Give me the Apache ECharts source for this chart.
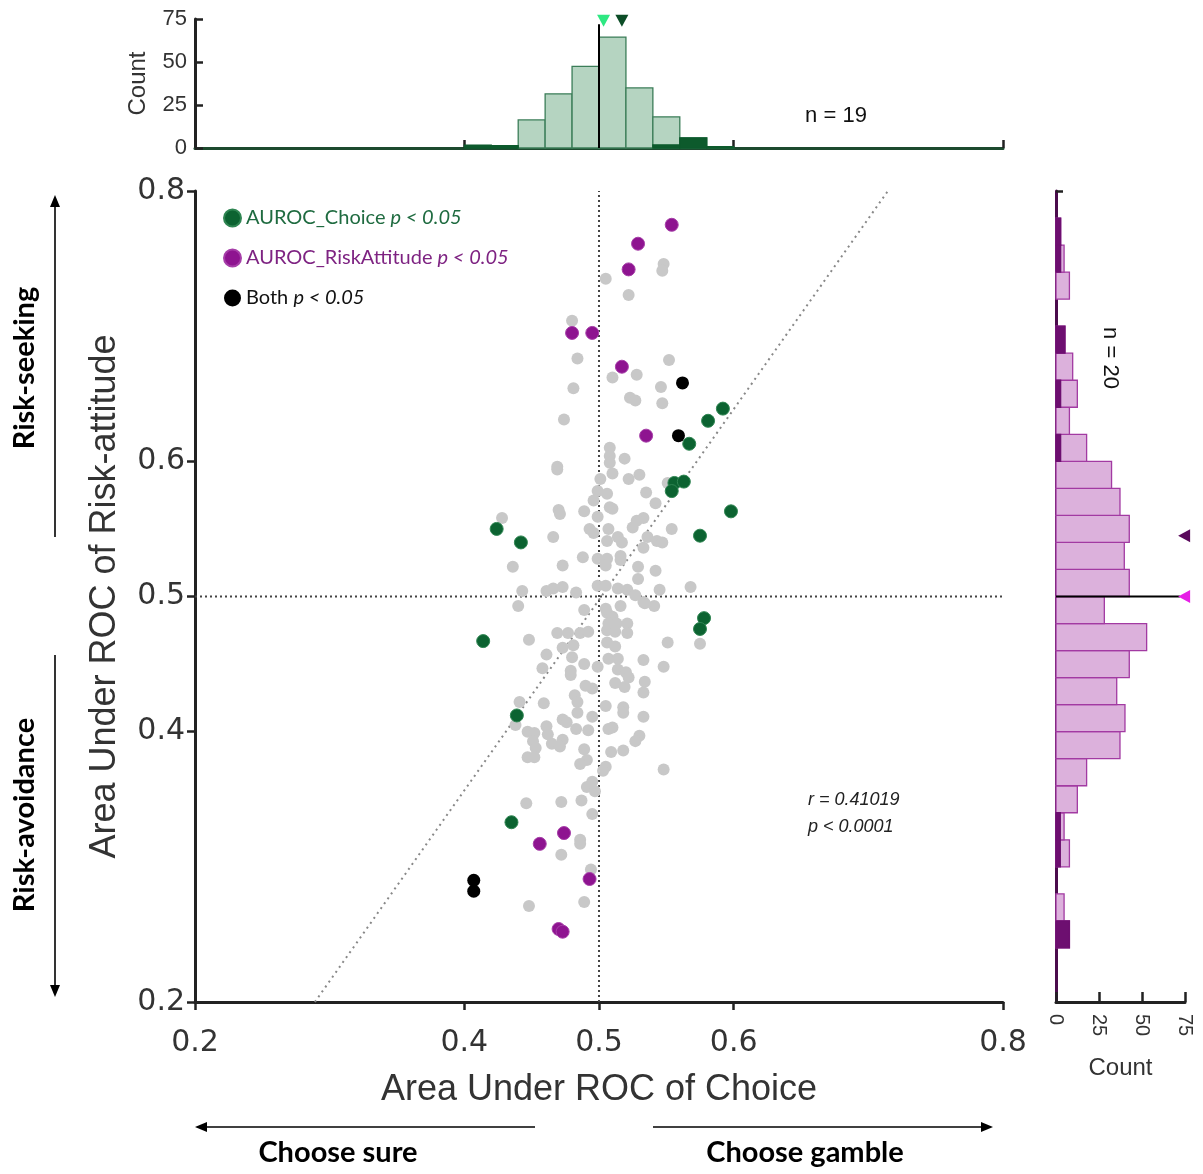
<!DOCTYPE html>
<html><head><meta charset="utf-8">
<script src="https://cdn.jsdelivr.net/npm/echarts@6/dist/echarts.min.js"></script>
<style>html,body{margin:0;padding:0;background:#fff}#c{width:1203px;height:1174px}</style>
</head><body><div id="c"></div>
<script>
// ---------- DATA ----------
const mainTicks = [0.2, 0.4, 0.5, 0.6, 0.8];
const countTicks = [0, 25, 50, 75];

const grayPts = [
[0.548,0.746],[0.547,0.741],[0.505,0.735],[0.522,0.723],[0.480,0.704],[0.484,0.676],[0.552,0.675],[0.510,0.662],[0.528,0.664],[0.481,0.654],[0.546,0.655],[0.523,0.647],[0.527,0.645],[0.547,0.643],[0.474,0.631],
[0.508,0.610],[0.508,0.604],[0.519,0.602],[0.469,0.596],[0.469,0.594],[0.508,0.599],[0.510,0.591],[0.501,0.587],[0.530,0.590],[0.522,0.587],[0.499,0.578],[0.496,0.571],[0.506,0.576],[0.508,0.566],[0.510,0.565],[0.535,0.577],[0.542,0.569],[0.551,0.584],[0.470,0.564],[0.471,0.561],[0.489,0.563],[0.499,0.559],[0.428,0.558],[0.533,0.558],[0.528,0.556],[0.525,0.551],[0.493,0.550],[0.496,0.547],[0.507,0.550],[0.514,0.544],[0.517,0.540],[0.536,0.544],[0.543,0.541],[0.547,0.540],[0.554,0.550],[0.506,0.541],[0.533,0.536],[0.466,0.544],[0.488,0.529],[0.499,0.528],[0.506,0.528],[0.516,0.530],[0.516,0.527],[0.473,0.523],[0.436,0.522],[0.505,0.523],[0.529,0.522],[0.529,0.513],[0.542,0.519],
[0.443,0.504],[0.461,0.504],[0.466,0.506],[0.473,0.507],[0.483,0.503],[0.499,0.508],[0.514,0.506],[0.521,0.505],[0.527,0.501],[0.545,0.505],[0.568,0.507],[0.440,0.493],[0.489,0.490],[0.516,0.493],[0.533,0.496],[0.541,0.493],[0.506,0.488],[0.510,0.485],[0.507,0.480],[0.513,0.480],[0.521,0.480],[0.506,0.475],[0.512,0.474],[0.521,0.473],[0.469,0.473],[0.486,0.473],[0.492,0.474],[0.448,0.468],[0.551,0.466],[0.575,0.465],[0.506,0.466],[0.512,0.463],[0.481,0.464],[0.473,0.462],[0.461,0.457],[0.480,0.455],[0.507,0.454],[0.514,0.454],[0.533,0.453],[0.458,0.447],[0.479,0.445],[0.489,0.450],[0.499,0.448],[0.514,0.446],[0.520,0.444],[0.522,0.440],[0.548,0.448],[0.534,0.437],[0.533,0.429],[0.512,0.436],[0.519,0.433],[0.490,0.434],[0.495,0.432],[0.482,0.427],[0.477,0.473],[0.505,0.491],[0.505,0.508],[0.534,0.495],[0.479,0.442],
[0.441,0.422],[0.459,0.421],[0.484,0.422],[0.505,0.419],[0.518,0.418],[0.518,0.414],[0.484,0.414],[0.495,0.411],[0.533,0.411],[0.438,0.405],[0.473,0.409],[0.476,0.407],[0.461,0.404],[0.483,0.402],[0.492,0.401],[0.507,0.402],[0.510,0.403],[0.447,0.400],[0.452,0.399],[0.462,0.398],[0.530,0.397],[0.451,0.393],[0.473,0.394],[0.465,0.391],[0.471,0.389],[0.453,0.388],[0.527,0.393],[0.489,0.387],[0.518,0.386],[0.509,0.385],[0.447,0.381],[0.452,0.381],[0.491,0.379],[0.486,0.376],[0.505,0.374],[0.503,0.371],[0.548,0.372],[0.495,0.363],[0.491,0.359],[0.497,0.356],[0.446,0.347],[0.472,0.348],[0.487,0.349],[0.495,0.339],[0.486,0.320],[0.486,0.317],[0.472,0.309],[0.494,0.298],[0.448,0.271],[0.489,0.274]
];
const choicePts = [[0.592,0.639],[0.581,0.630],[0.567,0.613],[0.556,0.584],[0.563,0.585],[0.554,0.578],[0.598,0.563],[0.575,0.545],[0.424,0.550],[0.442,0.540],[0.578,0.484],[0.575,0.476],[0.414,0.467],[0.439,0.412],[0.435,0.333]];
const riskPts = [[0.554,0.775],[0.529,0.761],[0.522,0.742],[0.480,0.695],[0.495,0.695],[0.517,0.670],[0.535,0.619],[0.474,0.325],[0.456,0.317],[0.493,0.291],[0.470,0.254],[0.473,0.252]];
const bothPts = [[0.562,0.658],[0.559,0.619],[0.407,0.290],[0.407,0.282]];

const regLine = [[0.289,0.2],[0.7145,0.8]];

// top histogram (AUROC of choice)
const choiceEdges = [0.40,0.42,0.44,0.46,0.48,0.50,0.52,0.54,0.56,0.58,0.60];
const choiceAll   = [0, 0, 16.3, 31.5, 47.4, 64.5, 34.9, 18.1, 5.8, 0.8];
const choiceSig   = [1.6, 1.4, 0, 0, 0, 0, 0, 1.8, 5.8, 0.8];
const choiceMeans = [0.5034, 0.517];

// right histogram (AUROC of risk attitude)
const riskEdges = [0.20,0.22,0.24,0.26,0.28,0.30,0.32,0.34,0.36,0.38,0.40,0.42,0.44,0.46,0.48,0.50,0.52,0.54,0.56,0.58,0.60,0.62,0.64,0.66,0.68,0.70,0.72,0.74,0.76,0.78,0.80];
const riskAll = [0, 0, 7.8, 4.7, 0, 7.8, 4.7, 12.4, 17.8, 37.2, 40.1, 35.3, 42.6, 52.7, 28.1, 42.6, 39.7, 42.6, 37.2, 32.3, 17.8, 7.8, 12.4, 9.7, 5.2, 0, 7.8, 4.7, 2.7, 0];
const riskSig = [0, 0, 7.8, 0, 0, 2.5, 2.5, 0, 0, 0, 0, 0, 0, 0, 0, 0, 0, 0, 0, 0, 2.7, 0, 2.7, 0, 5.2, 0, 0, 2.7, 2.7, 0];
const riskMeans = [0.5, 0.545];

// ---------- CHART ----------
const chart = echarts.init(document.getElementById('c'), null, {renderer:'canvas'});
const AX = '#222';
const TXT = '#333';

function histSeries(edges, counts, xi, yi, horizontal, fill, stroke, z){
  const data = counts.map((c,i)=>[edges[i], edges[i+1], c]).filter(d=>d[2]>0);
  return {
    type:'custom', xAxisIndex:xi, yAxisIndex:yi, z:z, silent:true,
    data: data,
    encode: horizontal ? {x:2, y:[0,1]} : {x:[0,1], y:2},
    renderItem: function(params, api){
      const a = api.value(0), b = api.value(1), c = api.value(2);
      let p1, p2;
      if(!horizontal){ p1 = api.coord([a,0]); p2 = api.coord([b,c]); }
      else { p1 = api.coord([0,a]); p2 = api.coord([c,b]); }
      return {type:'rect', shape:{x:Math.min(p1[0],p2[0]), y:Math.min(p1[1],p2[1]), width:Math.abs(p2[0]-p1[0]), height:Math.abs(p2[1]-p1[1])},
              style:{fill:fill, stroke:stroke, lineWidth:1.3}};
    }
  };
}

const legendRich = {
  g:{color:'#1f6b40', fontFamily:'Lato', fontSize:20},
  gi:{color:'#1f6b40', fontFamily:'Lato', fontSize:20, fontStyle:'italic'},
  p:{color:'#7e2382', fontFamily:'Lato', fontSize:20},
  pi:{color:'#7e2382', fontFamily:'Lato', fontSize:20, fontStyle:'italic'},
  k:{color:'#111', fontFamily:'Lato', fontSize:20},
  ki:{color:'#111', fontFamily:'Lato', fontSize:20, fontStyle:'italic'}
};

function arrowHead(tip, dir){
  const [x,y] = tip, L = 12, W = 5;
  let pts;
  if(dir==='up') pts = [[x,y],[x-W,y+L],[x+W,y+L]];
  if(dir==='down') pts = [[x,y],[x-W,y-L],[x+W,y-L]];
  if(dir==='left') pts = [[x,y],[x+L,y-W],[x+L,y+W]];
  if(dir==='right') pts = [[x,y],[x-L,y-W],[x-L,y+W]];
  return {type:'polygon', shape:{points:pts}, style:{fill:'#000'}};
}
function seg(x1,y1,x2,y2){ return {type:'line', shape:{x1,y1,x2,y2}, style:{stroke:'#000', lineWidth:1.6}}; }
function boldText(txt, x, y, rot){
  return {type:'text', x:x, y:y, rotation:rot||0, style:{text:txt, fontFamily:'Lato', fontWeight:'bold', fontSize:29, fill:'#000', align:'center', verticalAlign:'middle'}};
}

const option = {
  backgroundColor:'#fff',
  animation:false,
  grid:[
    {left:195, top:191, width:808, height:811, outerBoundsMode:'none', containLabel:false},
    {left:195, top:19, width:808, height:129, outerBoundsMode:'none', containLabel:false},
    {left:1056, top:191, width:129, height:811, outerBoundsMode:'none', containLabel:false}
  ],
  xAxis:[
    {gridIndex:0, type:'value', min:0.2, max:0.8, interval:0.1,
     axisLine:{lineStyle:{color:AX, width:3}},
     axisTick:{customValues:mainTicks, length:8, lineStyle:{color:AX, width:2.5}},
     axisLabel:{customValues:mainTicks, formatter:v=>v.toFixed(1), fontSize:30, fontFamily:'DejaVu Sans', color:TXT, margin:26},
     splitLine:{show:false},
     name:'Area Under ROC of Choice', nameLocation:'middle', nameGap:70,
     nameTextStyle:{fontSize:36, fontFamily:'Liberation Sans', color:TXT}},
    {gridIndex:1, type:'value', min:0.2, max:0.8, interval:0.1,
     axisLine:{lineStyle:{color:'#1d4a2f', width:3}},
     axisTick:{inside:true, customValues:[0.2,0.4,0.6,0.8], length:8, lineStyle:{color:AX, width:2.5}},
     axisLabel:{show:false}, splitLine:{show:false}},
    {gridIndex:2, type:'value', min:0, max:75, interval:25,
     axisLine:{lineStyle:{color:AX, width:3}},
     axisTick:{inside:true, length:10, lineStyle:{color:AX, width:2.5}},
     axisLabel:{rotate:-90, fontSize:20, fontFamily:'Liberation Sans', color:TXT, margin:12},
     splitLine:{show:false},
     name:'Count', nameLocation:'middle', nameGap:54,
     nameTextStyle:{fontSize:24, fontFamily:'Liberation Sans', color:TXT}}
  ],
  yAxis:[
    {gridIndex:0, type:'value', min:0.2, max:0.8, interval:0.1,
     axisLine:{lineStyle:{color:AX, width:3}},
     axisTick:{customValues:mainTicks, length:8, lineStyle:{color:AX, width:2.5}},
     axisLabel:{customValues:mainTicks, formatter:v=>v.toFixed(1), fontSize:30, fontFamily:'DejaVu Sans', color:TXT, margin:10},
     splitLine:{show:false},
     name:'Area Under ROC of Risk-attitude', nameLocation:'middle', nameGap:72,
     nameTextStyle:{fontSize:36, fontFamily:'Liberation Sans', color:TXT}},
    {gridIndex:1, type:'value', min:0, max:75, interval:25,
     axisLine:{lineStyle:{color:AX, width:3}},
     axisTick:{inside:true, length:8, lineStyle:{color:AX, width:2.5}},
     axisLabel:{fontSize:22, fontFamily:'Liberation Sans', color:TXT, margin:8},
     splitLine:{show:false},
     name:'Count', nameLocation:'middle', nameGap:45,
     nameTextStyle:{fontSize:24, fontFamily:'Liberation Sans', color:TXT}},
    {gridIndex:2, type:'value', min:0.2, max:0.8, interval:0.1,
     axisLine:{lineStyle:{color:'#4b0c4d', width:3}},
     axisTick:{inside:true, customValues:mainTicks, length:7, lineStyle:{color:AX, width:2.5}},
     axisLabel:{show:false}, splitLine:{show:false}}
  ],
  legend:{
    orient:'vertical', left:223, top:208, padding:0, itemGap:20, icon:'circle', itemWidth:17, itemHeight:17,
    data:['AUROC_Choice','AUROC_RiskAttitude','Both'],
    formatter:function(n){
      if(n==='AUROC_Choice') return '{g|AUROC_Choice }{gi|p < 0.05}';
      if(n==='AUROC_RiskAttitude') return '{p|AUROC_RiskAttitude }{pi|p < 0.05}';
      return '{k|Both }{ki|p < 0.05}';
    },
    textStyle:{rich:legendRich},
    selectedMode:false
  },
  series:[
    {type:'line', xAxisIndex:0, yAxisIndex:0, data:[[0.5,0.2],[0.5,0.8]], symbol:'none', silent:true, z:1,
     lineStyle:{color:'#444', width:2, type:[2,3]}},
    {type:'line', xAxisIndex:0, yAxisIndex:0, data:[[0.2,0.5],[0.8,0.5]], symbol:'none', silent:true, z:1,
     lineStyle:{color:'#444', width:2, type:[2,3]}},
    {type:'line', xAxisIndex:0, yAxisIndex:0, data:regLine, symbol:'none', silent:true, z:1,
     lineStyle:{color:'#888', width:2, type:[2,4]}},
    {name:'Other', type:'scatter', xAxisIndex:0, yAxisIndex:0, data:grayPts, symbolSize:12, z:2,
     itemStyle:{color:'#c8c8c8', opacity:1}},
    {name:'AUROC_Choice', type:'scatter', xAxisIndex:0, yAxisIndex:0, data:choicePts, symbolSize:13, z:3,
     itemStyle:{color:'#0c6331', borderColor:'#2f8552', borderWidth:1, opacity:1}},
    {name:'AUROC_RiskAttitude', type:'scatter', xAxisIndex:0, yAxisIndex:0, data:riskPts, symbolSize:13, z:3,
     itemStyle:{color:'#8e1490', borderColor:'#a63ea8', borderWidth:1, opacity:1}},
    {name:'Both', type:'scatter', xAxisIndex:0, yAxisIndex:0, data:bothPts, symbolSize:13, z:3,
     itemStyle:{color:'#000', opacity:1}},

    histSeries(choiceEdges, choiceAll, 1, 1, false, '#b5d4c1', '#3b7d58', 2),
    histSeries(choiceEdges, choiceSig, 1, 1, false, '#0d5a2c', '#0d5a2c', 3),
    {type:'line', xAxisIndex:1, yAxisIndex:1, data:[[0.5,0],[0.5,72]], symbol:'none', silent:true, z:4,
     lineStyle:{color:'#000', width:2}},
    {type:'scatter', xAxisIndex:1, yAxisIndex:1, symbol:'triangle', symbolRotate:180, symbolSize:[13,12], z:5, silent:true,
     data:[{value:[choiceMeans[0],74], itemStyle:{color:'#2ee882', opacity:1}}, {value:[choiceMeans[1],74], itemStyle:{color:'#0c4d27', opacity:1}}]},

    histSeries(riskEdges, riskAll, 2, 2, true, '#dcb1dc', '#a23aa2', 2),
    histSeries(riskEdges, riskSig, 2, 2, true, '#6d0f70', '#6d0f70', 3),
    {type:'line', xAxisIndex:2, yAxisIndex:2, data:[[0,0.5],[72,0.5]], symbol:'none', silent:true, z:4,
     lineStyle:{color:'#000', width:2}},
    {type:'scatter', xAxisIndex:2, yAxisIndex:2, symbol:'triangle', symbolRotate:90, symbolSize:[13,12], z:5, silent:true,
     data:[{value:[74.5,riskMeans[0]], itemStyle:{color:'#e61ee6', opacity:1}}, {value:[74.5,riskMeans[1]], itemStyle:{color:'#5a0a5c', opacity:1}}]}
  ],
  graphic:[
    seg(55,205,55,537), arrowHead([55,195],'up'),
    seg(55,655,55,987), arrowHead([55,997],'down'),
    seg(205,1127,535,1127), arrowHead([195,1127],'left'),
    seg(653,1127,983,1127), arrowHead([993,1127],'right'),
    boldText('Risk-seeking', 25, 368, Math.PI/2),
    boldText('Risk-avoidance', 25, 815, Math.PI/2),
    boldText('Choose sure', 338, 1153, 0),
    boldText('Choose gamble', 805, 1153, 0),
    {type:'text', x:836, y:116, style:{text:'n = 19', fontFamily:'Liberation Sans', fontSize:22, fill:'#111', align:'center', verticalAlign:'middle'}},
    {type:'text', x:1110, y:358, rotation:-Math.PI/2, style:{text:'n = 20', fontFamily:'Liberation Sans', fontSize:22, fill:'#111', align:'center', verticalAlign:'middle'}},
    {type:'text', x:808, y:800, style:{text:'r = 0.41019', fontFamily:'Liberation Sans', fontStyle:'italic', fontSize:18, fill:'#222', align:'left', verticalAlign:'middle'}},
    {type:'text', x:808, y:827, style:{text:'p < 0.0001', fontFamily:'Liberation Sans', fontStyle:'italic', fontSize:18, fill:'#222', align:'left', verticalAlign:'middle'}}
  ]
};
chart.setOption(option);
</script></body></html>
